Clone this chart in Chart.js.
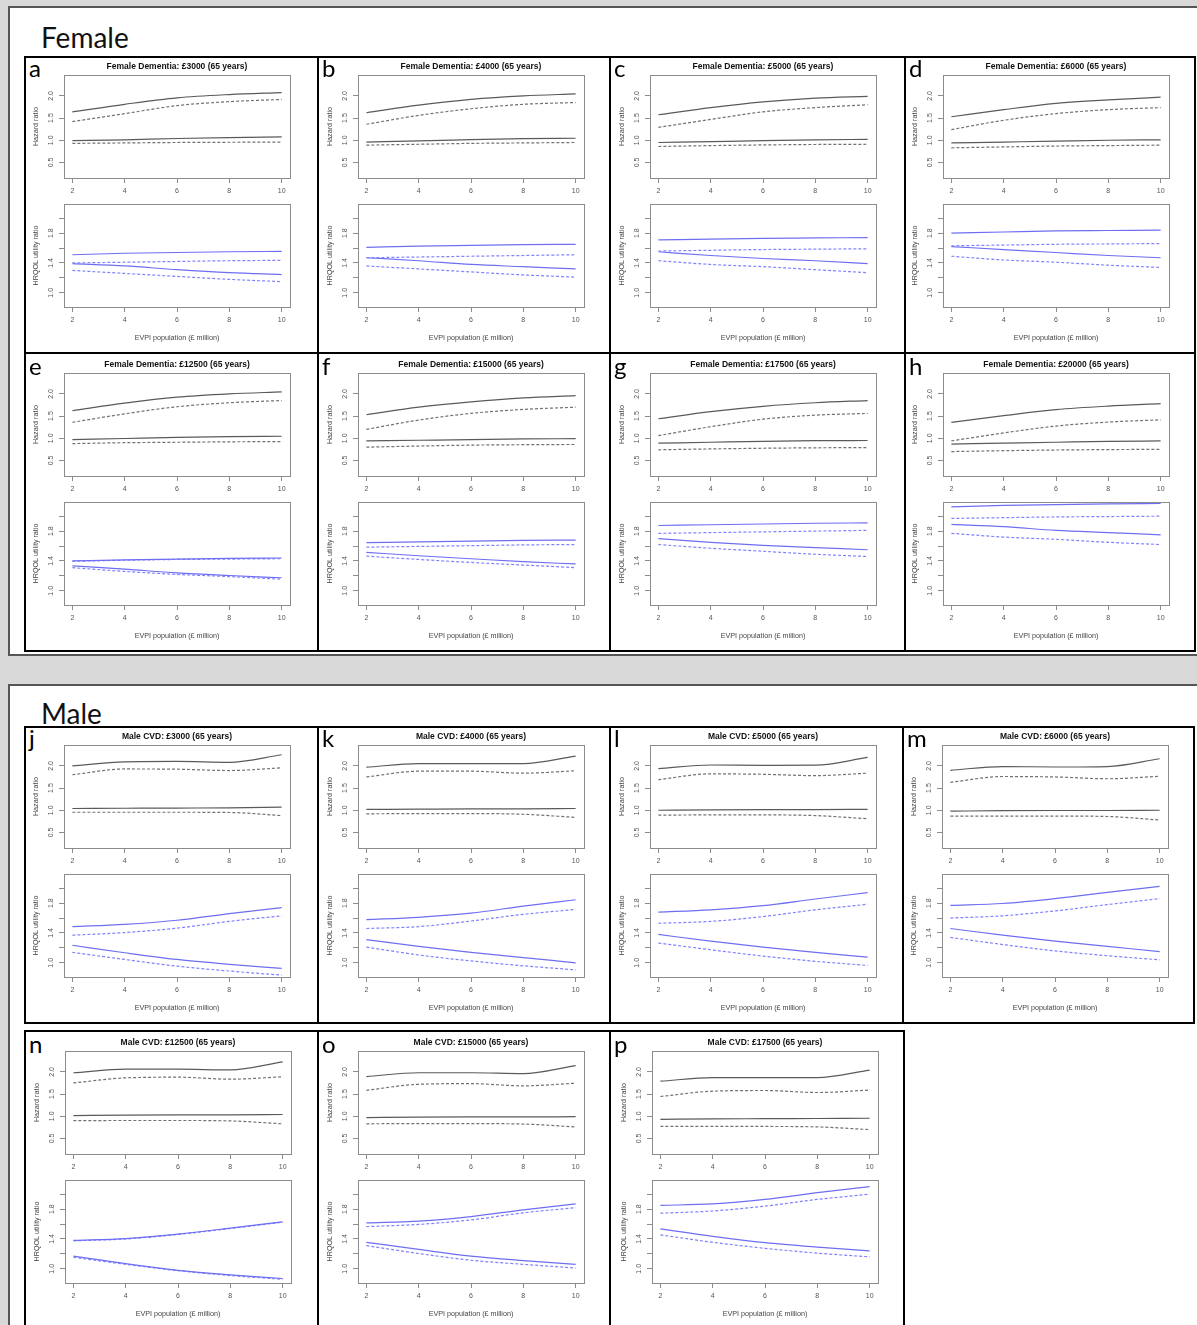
<!DOCTYPE html>
<html>
<head>
<meta charset="utf-8">
<script src="https://cdn.jsdelivr.net/npm/chart.js@4/dist/chart.umd.min.js"></script>
<style>
  body { margin: 0; background: #d9d9d9; width: 1197px; height: 1325px; overflow: hidden; position: relative; }
  .sheet { position: absolute; left: 8px; width: 1200px; background: #fff; border: 2px solid #555; box-sizing: border-box; }
  .heading { position: absolute; left: 41px; font-family: Lato, sans-serif; font-size: 28px; line-height: 28px; color: #111; }
  .panel { position: absolute; border: 2px solid #000; box-sizing: border-box; }
  .letter { position: absolute; font-family: Lato, sans-serif; font-size: 24px; line-height: 24px; color: #000; }
  canvas { position: absolute; }
</style>
</head>
<body>
<div class="sheet" style="top:6px;height:650px"></div>
<div class="sheet" style="top:684px;height:700px"></div>
<div class="heading" style="top:23px">Female</div>
<div class="heading" style="top:699px">Male</div>
<div id="wrap"></div>
<script>
// x values and ticks
const xVals = [2, 4, 6, 8, 10];
const xTicks = [2, 4, 6, 8, 10];
const hazardTicks = [0.5, 1.0, 1.5, 2.0];
const hazardTickLabels = ['0.5', '1.0', '1.5', '2.0'];
const utilityTicks = [1.0, 1.2, 1.4, 1.6, 1.8, 2.0];
const utilityTickLabels = ['1.0', '', '1.4', '', '1.8', ''];

const panelLetters = ['a', 'b', 'c', 'd', 'e', 'f', 'g', 'h', 'j', 'k', 'l', 'm', 'n', 'o', 'p'];
const panelTitles = [
    'Female Dementia: £3000 (65 years)', 'Female Dementia: £4000 (65 years)',
    'Female Dementia: £5000 (65 years)', 'Female Dementia: £6000 (65 years)',
    'Female Dementia: £12500 (65 years)', 'Female Dementia: £15000 (65 years)',
    'Female Dementia: £17500 (65 years)', 'Female Dementia: £20000 (65 years)',
    'Male CVD: £3000 (65 years)', 'Male CVD: £4000 (65 years)',
    'Male CVD: £5000 (65 years)', 'Male CVD: £6000 (65 years)',
    'Male CVD: £12500 (65 years)', 'Male CVD: £15000 (65 years)',
    'Male CVD: £17500 (65 years)'
];

// hazard ratio, one row per panel (a..h, j..p)
const hazUpperSolid = [
    [1.64, 1.81, 1.955, 2.03, 2.075],
    [1.62, 1.79, 1.92, 2.0, 2.045],
    [1.575, 1.735, 1.865, 1.95, 1.99],
    [1.53, 1.69, 1.83, 1.91, 1.97],
    [1.62, 1.79, 1.925, 2.0, 2.045],
    [1.53, 1.70, 1.82, 1.91, 1.96],
    [1.44, 1.60, 1.72, 1.80, 1.85],
    [1.36, 1.51, 1.645, 1.725, 1.78],
    [2.0, 2.09, 2.10, 2.08, 2.25],
    [1.97, 2.05, 2.05, 2.05, 2.22],
    [1.94, 2.02, 2.01, 2.015, 2.19],
    [1.90, 1.985, 1.975, 1.985, 2.16],
    [1.98, 2.06, 2.06, 2.045, 2.225],
    [1.895, 1.98, 1.98, 1.96, 2.14],
    [1.79, 1.87, 1.87, 1.87, 2.04]
];
const hazUpperDash = [
    [1.42, 1.60, 1.78, 1.87, 1.92],
    [1.36, 1.56, 1.71, 1.81, 1.85],
    [1.29, 1.47, 1.64, 1.735, 1.80],
    [1.24, 1.45, 1.60, 1.69, 1.735],
    [1.36, 1.55, 1.71, 1.80, 1.85],
    [1.20, 1.41, 1.56, 1.65, 1.70],
    [1.06, 1.26, 1.43, 1.52, 1.56],
    [0.94, 1.12, 1.275, 1.365, 1.415],
    [1.80, 1.93, 1.925, 1.895, 1.955],
    [1.75, 1.88, 1.88, 1.835, 1.89],
    [1.69, 1.82, 1.81, 1.78, 1.835],
    [1.63, 1.76, 1.75, 1.71, 1.765],
    [1.75, 1.865, 1.88, 1.835, 1.89],
    [1.585, 1.72, 1.735, 1.685, 1.745],
    [1.445, 1.565, 1.58, 1.535, 1.59]
];
const hazLowerSolid = [
    [0.99, 1.01, 1.04, 1.06, 1.075],
    [0.96, 0.985, 1.015, 1.035, 1.045],
    [0.95, 0.97, 0.99, 1.01, 1.02],
    [0.94, 0.96, 0.98, 1.0, 1.01],
    [0.97, 0.995, 1.02, 1.035, 1.045],
    [0.94, 0.955, 0.97, 0.985, 0.99],
    [0.89, 0.91, 0.93, 0.945, 0.95],
    [0.87, 0.89, 0.91, 0.93, 0.94],
    [1.04, 1.045, 1.05, 1.055, 1.07],
    [1.02, 1.025, 1.03, 1.03, 1.04],
    [1.0, 1.01, 1.015, 1.015, 1.02],
    [0.98, 0.99, 0.995, 0.995, 1.0],
    [1.015, 1.025, 1.03, 1.03, 1.04],
    [0.97, 0.98, 0.985, 0.985, 0.99],
    [0.93, 0.94, 0.945, 0.95, 0.955]
];
const hazLowerDash = [
    [0.93, 0.94, 0.95, 0.955, 0.96],
    [0.89, 0.91, 0.93, 0.94, 0.95],
    [0.86, 0.88, 0.895, 0.905, 0.91],
    [0.83, 0.85, 0.87, 0.88, 0.89],
    [0.88, 0.90, 0.91, 0.92, 0.925],
    [0.80, 0.825, 0.845, 0.855, 0.86],
    [0.74, 0.76, 0.775, 0.785, 0.79],
    [0.70, 0.72, 0.735, 0.745, 0.75],
    [0.955, 0.955, 0.955, 0.95, 0.88],
    [0.92, 0.925, 0.925, 0.91, 0.84],
    [0.89, 0.895, 0.895, 0.88, 0.81],
    [0.87, 0.87, 0.87, 0.86, 0.78],
    [0.90, 0.905, 0.905, 0.895, 0.83],
    [0.83, 0.835, 0.835, 0.825, 0.76],
    [0.77, 0.77, 0.77, 0.76, 0.70]
];

// HRQOL utility ratio
const utilUpperSolid = [
    [1.51, 1.53, 1.54, 1.55, 1.555],
    [1.61, 1.625, 1.635, 1.645, 1.65],
    [1.71, 1.72, 1.73, 1.735, 1.74],
    [1.80, 1.815, 1.83, 1.835, 1.84],
    [1.40, 1.415, 1.425, 1.435, 1.44],
    [1.645, 1.655, 1.665, 1.675, 1.68],
    [1.875, 1.885, 1.895, 1.905, 1.91],
    [2.125, 2.145, 2.155, 2.165, 2.17],
    [1.485, 1.515, 1.57, 1.66, 1.74],
    [1.58, 1.61, 1.665, 1.76, 1.845],
    [1.68, 1.71, 1.765, 1.855, 1.94],
    [1.77, 1.795, 1.86, 1.945, 2.025],
    [1.38, 1.405, 1.465, 1.545, 1.63],
    [1.615, 1.64, 1.70, 1.79, 1.87],
    [1.85, 1.87, 1.93, 2.02, 2.10]
];
const utilUpperDash = [
    [1.40, 1.41, 1.42, 1.43, 1.435],
    [1.47, 1.48, 1.49, 1.50, 1.51],
    [1.56, 1.57, 1.58, 1.585, 1.59],
    [1.63, 1.64, 1.65, 1.655, 1.66],
    [1.395, 1.41, 1.42, 1.425, 1.43],
    [1.585, 1.595, 1.605, 1.615, 1.62],
    [1.77, 1.78, 1.79, 1.80, 1.81],
    [1.97, 1.98, 1.99, 1.995, 2.0],
    [1.37, 1.405, 1.465, 1.555, 1.63],
    [1.46, 1.485, 1.56, 1.65, 1.715],
    [1.53, 1.555, 1.62, 1.71, 1.785],
    [1.60, 1.63, 1.695, 1.78, 1.86],
    [1.375, 1.40, 1.46, 1.54, 1.625],
    [1.565, 1.595, 1.655, 1.75, 1.82],
    [1.745, 1.775, 1.84, 1.93, 2.0]
];
const utilLowerSolid = [
    [1.39, 1.36, 1.31, 1.27, 1.245],
    [1.47, 1.43, 1.38, 1.35, 1.32],
    [1.55, 1.50, 1.46, 1.43, 1.39],
    [1.62, 1.58, 1.54, 1.50, 1.47],
    [1.335, 1.29, 1.24, 1.205, 1.175],
    [1.515, 1.47, 1.43, 1.39, 1.36],
    [1.70, 1.65, 1.61, 1.58, 1.55],
    [1.89, 1.86, 1.81, 1.78, 1.75],
    [1.235, 1.135, 1.045, 0.98, 0.925],
    [1.31, 1.22, 1.14, 1.07, 1.0],
    [1.38, 1.29, 1.21, 1.14, 1.075],
    [1.46, 1.37, 1.29, 1.22, 1.15],
    [1.17, 1.07, 0.98, 0.92, 0.87],
    [1.355, 1.26, 1.17, 1.11, 1.06],
    [1.535, 1.435, 1.35, 1.29, 1.24]
];
const utilLowerDash = [
    [1.30, 1.26, 1.22, 1.18, 1.15],
    [1.36, 1.32, 1.28, 1.24, 1.21],
    [1.43, 1.38, 1.35, 1.31, 1.27],
    [1.49, 1.44, 1.41, 1.37, 1.34],
    [1.31, 1.26, 1.22, 1.19, 1.155],
    [1.465, 1.42, 1.38, 1.345, 1.31],
    [1.62, 1.57, 1.53, 1.49, 1.46],
    [1.77, 1.72, 1.69, 1.65, 1.62],
    [1.14, 1.045, 0.955, 0.89, 0.835],
    [1.21, 1.105, 1.025, 0.96, 0.905],
    [1.265, 1.175, 1.09, 1.02, 0.965],
    [1.34, 1.245, 1.16, 1.095, 1.04],
    [1.155, 1.06, 0.975, 0.91, 0.86],
    [1.31, 1.205, 1.115, 1.06, 1.01],
    [1.455, 1.355, 1.275, 1.21, 1.16]
];

// panel frames: border box (x,y,w,h) and origin of the plot content (ox,oy)
const frames = [
    [24, 56, 295, 298, 25.5, 57], [317, 56, 294, 298, 319.5, 57], [609, 56, 297, 298, 612, 57], [904, 56, 292, 298, 905, 57],
    [24, 352, 295, 300, 25.5, 355], [317, 352, 294, 300, 319.5, 355], [609, 352, 297, 300, 612, 355], [904, 352, 292, 300, 905, 355],
    [24, 726, 295, 298, 25.5, 727], [317, 726, 294, 298, 319.5, 727], [609, 726, 295, 298, 612, 727], [902, 726, 293, 298, 904, 727],
    [24, 1030, 295, 310, 27, 1033], [317, 1030, 294, 310, 320, 1033], [609, 1030, 296, 310, 614, 1033]
];

const frameColor = '#8c8c8c';
const tickFont = { family: 'Liberation Sans', size: 7 };
const axisTitleFont = { family: 'Liberation Sans', size: 7.2 };

function criarSubgrafico(canvas, tipo, idx) {
    const isHaz = tipo === 'haz';
    const series = isHaz
        ? [[hazUpperSolid, false], [hazUpperDash, true], [hazLowerSolid, false], [hazLowerDash, true]]
        : [[utilUpperSolid, false], [utilUpperDash, true], [utilLowerSolid, false], [utilLowerDash, true]];
    const solidColor = isHaz ? '#5a5a5a' : '#6e6ef2';
    const dashColor = isHaz ? '#727272' : '#8282ff';
    const yTicks = isHaz ? hazardTicks : utilityTicks;
    const yLabels = isHaz ? hazardTickLabels : utilityTickLabels;

    const datasets = series.map(([arr, dashed]) => ({
        data: xVals.map((x, i) => ({ x: x, y: arr[idx][i] })),
        borderColor: dashed ? dashColor : solidColor,
        borderWidth: 1.2,
        borderDash: dashed ? [3, 2] : [],
        pointRadius: 0,
        cubicInterpolationMode: 'monotone',
        fill: false
    }));

    return new Chart(canvas.getContext('2d'), {
        type: 'line',
        data: { datasets: datasets },
        options: {
            responsive: false,
            animation: false,
            devicePixelRatio: 1,
            events: [],
            layout: { padding: { left: 0, right: 29, top: isHaz ? 0 : 7, bottom: 0 } },
            plugins: {
                legend: { display: false },
                tooltip: { enabled: false },
                title: {
                    display: isHaz,
                    text: panelTitles[idx],
                    fullSize: false,
                    color: '#111',
                    font: { family: 'Liberation Sans', size: 8.5, weight: 'bold' },
                    padding: { top: 5, bottom: 2.8 }
                }
            },
            scales: {
                x: {
                    type: 'linear', position: 'bottom', min: 1.68, max: 10.32,
                    afterBuildTicks: s => { s.ticks = xTicks.map(v => ({ value: v })); },
                    ticks: { autoSkip: false, maxRotation: 0, padding: 3.8, font: tickFont, color: '#555',
                        callback: v => String(v) },
                    grid: { drawOnChartArea: false, drawTicks: true, tickLength: 5, color: frameColor },
                    border: { display: true, color: frameColor, width: 1 },
                    title: {
                        display: !isHaz,
                        text: 'EVPI population (£ million)',
                        font: axisTitleFont, color: '#444',
                        padding: { top: 0, bottom: 4.7 }
                    },
                    afterFit: s => { s.height = isHaz ? 19 : 40; s.paddingLeft = 0; s.paddingRight = 0; }
                },
                y: {
                    type: 'linear', position: 'left',
                    min: isHaz ? 0.15 : 0.81, max: isHaz ? 2.47 : 2.19,
                    afterBuildTicks: s => { s.ticks = yTicks.map(v => ({ value: v })); },
                    ticks: { autoSkip: false, minRotation: 90, maxRotation: 90, crossAlign: 'center',
                        padding: 3.1, font: tickFont, color: '#555',
                        callback: (v, i) => yLabels[i] },
                    grid: { drawOnChartArea: false, drawTicks: true, tickLength: 5, color: frameColor },
                    border: { display: true, color: frameColor, width: 1 },
                    title: {
                        display: true,
                        text: isHaz ? 'Hazard ratio' : 'HRQOL utility ratio',
                        font: axisTitleFont, color: '#444',
                        padding: { top: 5.7, bottom: 0 }
                    },
                    afterFit: s => { s.width = 38; s.paddingTop = 0; s.paddingBottom = 0; }
                },
                x2: {
                    type: 'linear', position: 'top', min: 1.68, max: 10.32,
                    ticks: { display: false },
                    grid: { drawOnChartArea: false, drawTicks: false },
                    border: { display: true, color: frameColor, width: 1 },
                    afterFit: s => { s.height = 0; s.paddingLeft = 0; s.paddingRight = 0; }
                },
                y2: {
                    type: 'linear', position: 'right',
                    min: isHaz ? 0.15 : 0.81, max: isHaz ? 2.47 : 2.19,
                    ticks: { display: false },
                    grid: { drawOnChartArea: false, drawTicks: false },
                    border: { display: true, color: frameColor, width: 1 },
                    afterFit: s => { s.width = 0; s.paddingTop = 0; s.paddingBottom = 0; }
                }
            }
        }
    });
}

const wrap = document.getElementById('wrap');
frames.forEach((f, idx) => {
    const [bx, by, bw, bh, ox, oy] = f;
    const panel = document.createElement('div');
    panel.className = 'panel';
    panel.style.cssText = `left:${bx}px;top:${by}px;width:${bw}px;height:${bh}px`;
    wrap.appendChild(panel);

    const letter = document.createElement('div');
    letter.className = 'letter';
    letter.textContent = panelLetters[idx];
    letter.style.cssText = `left:${bx + 5}px;top:${oy - 1}px`;
    wrap.appendChild(letter);

    const c1 = document.createElement('canvas');
    c1.width = 293; c1.height = 140;
    c1.style.cssText = `left:${ox}px;top:${oy}px`;
    wrap.appendChild(c1);

    const c2 = document.createElement('canvas');
    c2.width = 293; c2.height = 150;
    c2.style.cssText = `left:${ox}px;top:${oy + 140}px`;
    wrap.appendChild(c2);

    criarSubgrafico(c1, 'haz', idx);
    criarSubgrafico(c2, 'util', idx);
});
</script>
</body>
</html>
